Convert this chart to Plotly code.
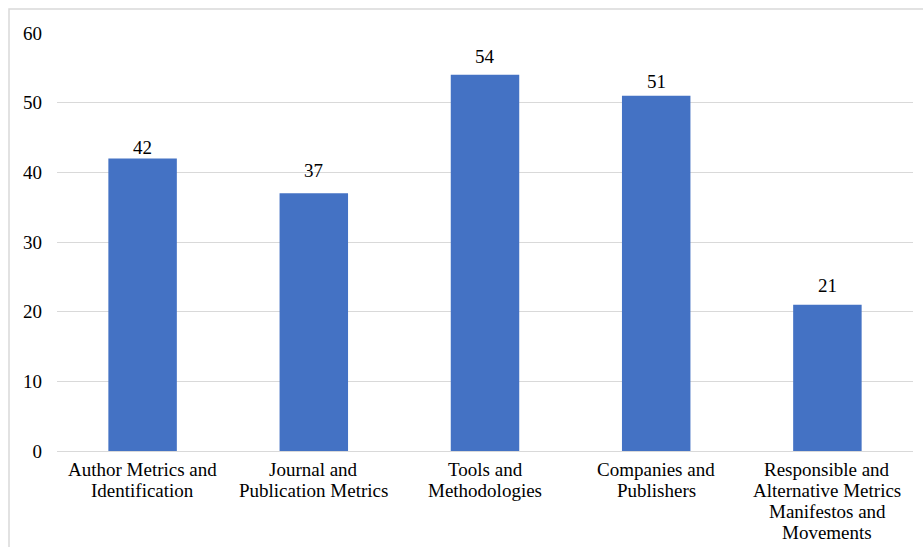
import plotly.graph_objects as go

categories = ["Author Metrics and<br>Identification",
              "Journal and<br>Publication Metrics",
              "Tools and<br>Methodologies",
              "Companies and<br>Publishers",
              "Responsible and<br>Alternative Metrics<br>Manifestos and<br>Movements"]
values = [42, 37, 54, 51, 21]
yticks = [0, 10, 20, 30, 40, 50, 60]

# style: vertical offset (px) of each value label above its bar top
label_offsets = [11, 23, 18, 14, 19]

FONT = "Liberation Serif"
FS = 19

fig = go.Figure(go.Bar(
    x=categories, y=values,
    marker_color="#4472C4", marker_line_width=0,
    hoverinfo="x+y",
))

annotations = []
# value labels
for cat, v, off in zip(categories, values, label_offsets):
    annotations.append(dict(
        x=cat, y=v, xref="x", yref="y", text=str(v), showarrow=False,
        yanchor="middle", xanchor="center", yshift=off,
        font=dict(family=FONT, size=FS, color="black")))
# category labels, one annotation per line for tighter line spacing
for cat in categories:
    for i, line in enumerate(cat.split("<br>")):
        annotations.append(dict(
            x=cat, y=0, xref="x", yref="y", text=line, showarrow=False,
            yanchor="middle", xanchor="center", yshift=-18 - 21 * i,
            font=dict(family=FONT, size=FS, color="black")))

fig.update_layout(
    width=923, height=547,
    margin=dict(l=57, r=10, t=33, b=96),
    paper_bgcolor="white", plot_bgcolor="white",
    bargap=0.6,
    showlegend=False,
    font=dict(family=FONT, size=FS, color="black"),
    xaxis=dict(showgrid=False, showline=False, ticks="", showticklabels=False),
    yaxis=dict(range=[0, 60], tickvals=yticks, showgrid=True, gridcolor="#d9d9d9",
               gridwidth=1, zeroline=True, zerolinecolor="#d9d9d9", zerolinewidth=1,
               showline=False, ticks="", ticklabelstandoff=14,
               tickfont=dict(size=FS, family=FONT)),
    annotations=annotations,
    shapes=[dict(type="rect", xref="paper", yref="paper",
                 x0=(9 - 57) / 856, x1=1.5, y0=-1, y1=1 + 24 / 418,
                 line=dict(color="#d9d9d9", width=1.5), fillcolor="rgba(0,0,0,0)", layer="below")],
)

fig.write_html("out.html")
